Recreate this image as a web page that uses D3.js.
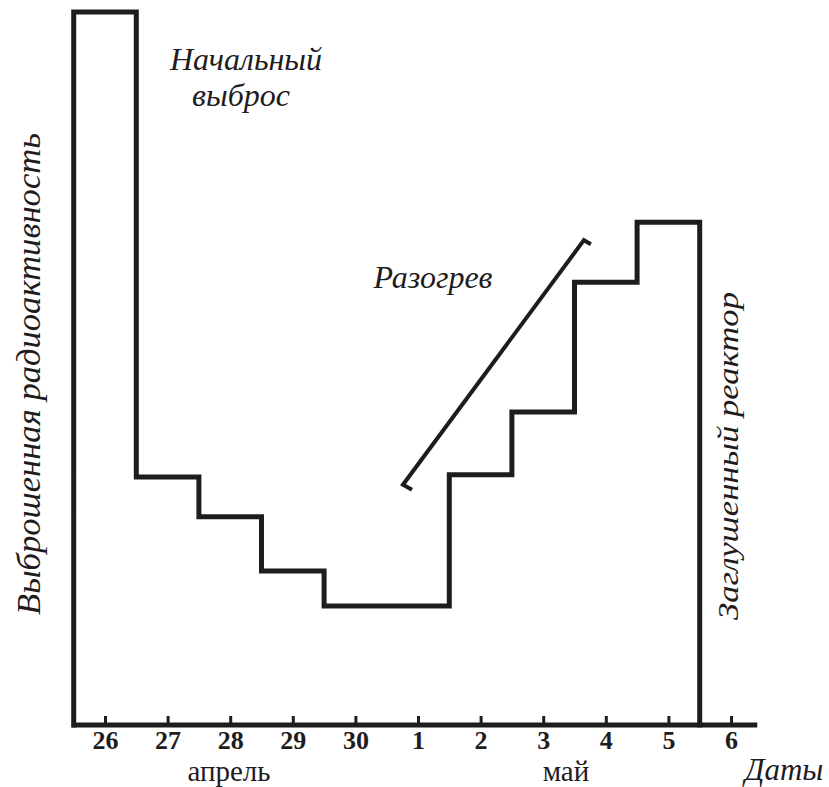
<!DOCTYPE html>
<html>
<head>
<meta charset="utf-8">
<script src="https://cdn.jsdelivr.net/npm/d3@7"></script>
<style>
  body { margin: 0; background: #fff; }
  svg { display: block; }
</style>
</head>
<body>
<div class="chart"></div>
<script>
var width = 829,
    height = 787;

// days along the x axis
var days = ["26", "27", "28", "29", "30", "1", "2", "3", "4", "5", "6"];
// released radioactivity per day (relative units, first day = 100)
var release = [100, 34.8, 29.2, 21.6, 16.7, 16.7, 35.1, 43.9, 62.1, 70.5];
// "Разогрев" trend line: [day index, value]
var warmup = [[4.76, 33.7], [7.65, 68.0]];

var ink = "#1f1c1d",
    serif = "'Liberation Serif', 'Times New Roman', Tinos, serif";

var x = d3.scaleLinear()
    .domain([0, 10])
    .range([105, 731]);

var y = d3.scaleLinear()
    .domain([0, 100])
    .range([725, 12]);

var svg = d3.select(".chart").append("svg")
    .attr("width", width)
    .attr("height", height);

// x axis
var xAxis = d3.axisBottom(x)
    .tickValues(d3.range(days.length))
    .tickFormat(function(d) { return days[d]; })
    .tickSizeInner(-9)
    .tickSizeOuter(0)
    .tickPadding(0);

var gx = svg.append("g")
    .attr("transform", "translate(0," + y(0) + ")")
    .call(xAxis);

gx.select(".domain")
    .attr("d", "M" + x(-0.53) + ",0H" + x(10.42))
    .attr("stroke", ink)
    .attr("stroke-width", 5);

gx.selectAll(".tick line")
    .attr("stroke", ink)
    .attr("stroke-width", 3);

gx.selectAll(".tick text")
    .attr("y", 6)
    .attr("dy", "0.71em")
    .attr("fill", ink)
    .style("font-family", serif)
    .style("font-weight", "bold")
    .style("font-size", "26px");

// stepped release curve, steps change at day boundaries
var stepPts = [[-0.5, 0]];
release.forEach(function(v, i) { stepPts.push([i - 0.5, v]); });
stepPts.push([release.length - 0.5, 0]);

var line = d3.line()
    .x(function(d) { return x(d[0]); })
    .y(function(d) { return y(d[1]); })
    .curve(d3.curveStepAfter);

svg.append("path")
    .datum(stepPts)
    .attr("d", line)
    .attr("fill", "none")
    .attr("stroke", ink)
    .attr("stroke-width", 5)
    .attr("stroke-linejoin", "miter")
    .attr("stroke-linecap", "square");

// warm-up trend with small hooks at both ends
var p0 = [x(warmup[0][0]), y(warmup[0][1])],
    p1 = [x(warmup[1][0]), y(warmup[1][1])];

svg.append("path")
    .attr("d", "M" + (p0[0] + 9) + "," + (p0[1] + 5) +
        "L" + p0[0] + "," + p0[1] +
        "L" + p1[0] + "," + p1[1] +
        "L" + (p1[0] + 7) + "," + (p1[1] + 4))
    .attr("fill", "none")
    .attr("stroke", ink)
    .attr("stroke-width", 4)
    .attr("stroke-linejoin", "miter");

// labels
function label(txt, px, py, size, italic, anchor) {
    return svg.append("text")
        .attr("x", px)
        .attr("y", py)
        .attr("fill", ink)
        .style("font-family", serif)
        .style("font-size", size + "px")
        .style("font-style", italic ? "italic" : "normal")
        .style("text-anchor", anchor || "middle")
        .text(txt);
}

label("Начальный", 246, 70, 32, true);
label("выброс", 241, 106, 32, true);
label("Разогрев", 433, 288, 32, true);
label("апрель", 229, 781, 29, false);
label("май", 566, 781, 29, false);
label("Даты", 784, 780, 31, true);

svg.append("text")
    .attr("transform", "translate(40,374) rotate(-90)")
    .attr("fill", ink)
    .style("font-family", serif)
    .style("font-size", "34px")
    .style("font-style", "italic")
    .style("text-anchor", "middle")
    .attr("textLength", 482)
    .attr("lengthAdjust", "spacingAndGlyphs")
    .text("Выброшенная радиоактивность");

svg.append("text")
    .attr("transform", "translate(738,456) rotate(-90)")
    .attr("fill", ink)
    .style("font-family", serif)
    .style("font-size", "30px")
    .style("font-style", "italic")
    .style("text-anchor", "middle")
    .attr("textLength", 328)
    .attr("lengthAdjust", "spacingAndGlyphs")
    .text("Заглушенный реактор");
</script>
</body>
</html>
